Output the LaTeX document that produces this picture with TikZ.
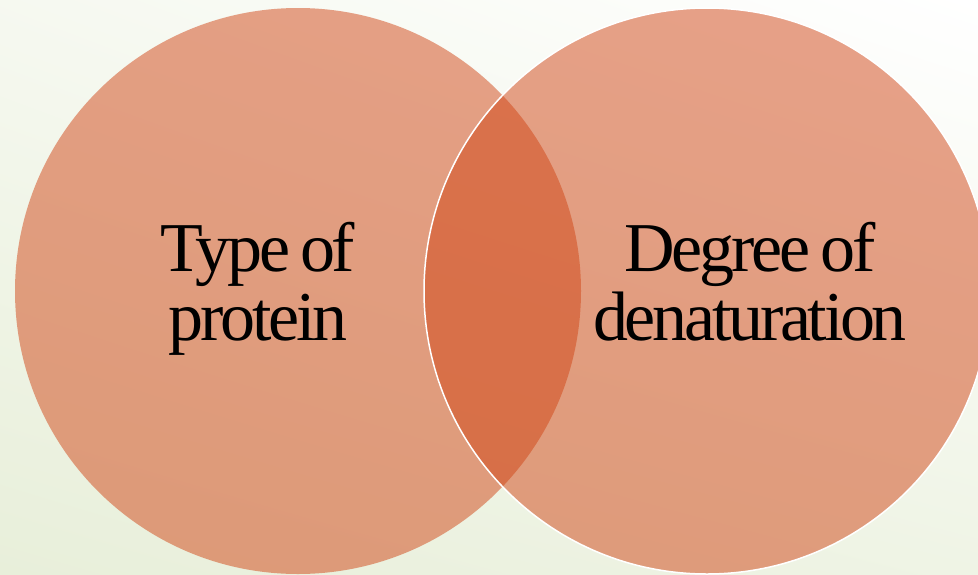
\documentclass[tikz,border=0pt]{standalone}
\usepackage{fontspec}
\setmainfont{Liberation Serif}
\newfontfamily\slidefont[LetterSpace=-4.7, WordSpace=0.7]{Liberation Serif}
\usepackage{tikz}
\usetikzlibrary{shadings}

\definecolor{slidegreen}{RGB}{232,239,218}
\definecolor{vennfill}{RGB}{209,69,21}

\begin{document}
\begin{tikzpicture}[x=1pt, y=-1pt,
    venn/.style={circle, minimum size=566pt, inner sep=0pt, fill=vennfill, fill opacity=0.5},
    label/.style={font=\slidefont\fontsize{70}{69}\selectfont, align=center, inner sep=0pt, text=black}]
        % --- background ---
        \useasboundingbox (0,0) rectangle (978,574);
        \shade[lower left=slidegreen, upper left=slidegreen!40!white,
               lower right=slidegreen!70!white, upper right=white] (0,0) rectangle (978,574);

        % --- the two circles ---
        \node[venn] (protein) at (298,291) {};
        \node[venn, draw=white, draw opacity=1, line width=1.5pt] (denat) at (707,291) {};

        % --- texts ---
        \node[label] (proteintext) at (258,289) {Type of\\protein};
        \node[label] (denattext) at (750,281.5) {Degree of\\denaturation};
\end{tikzpicture}
\end{document}
